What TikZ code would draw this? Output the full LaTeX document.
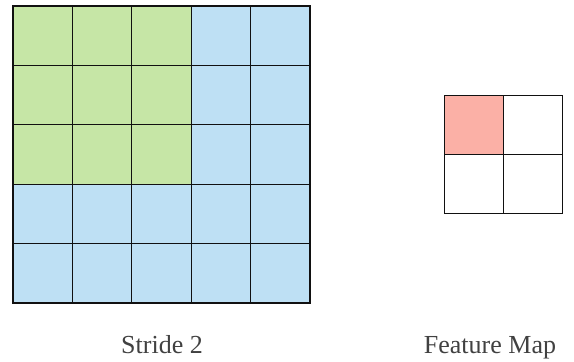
\documentclass[tikz,border=0pt]{standalone}
\usepackage{fontspec}
\setmainfont{Liberation Serif}
\usepackage{tikz}
\usetikzlibrary{positioning}
\definecolor{ink}     {HTML}{111111}
\definecolor{leaf}    {HTML}{C6E6A6}
\definecolor{sky}     {HTML}{BEE0F4}
\definecolor{blush}   {HTML}{FBB0A6}
\tikzset{
  % --- cells
  cell/.style  = {draw=ink, line width=1.1pt, minimum size=59.4pt, inner sep=0pt,
                  outer sep=0pt, anchor=north west},
  incell/.style= {cell, fill=sky},
  wincell/.style={cell, fill=leaf},
  fmcell/.style= {cell, line width=0.9pt, fill=white},
  hitcell/.style={fmcell, fill=blush},
  caption/.style = {font=\fontsize{26}{30}\selectfont, text=ink!80, anchor=base},
}
\begin{document}
\begin{tikzpicture}[x=1pt,y=1pt]
  \useasboundingbox (0,0) rectangle (574,362);
  % input 5x5, first 3x3 window
  \foreach \r in {0,...,4}{
    \foreach \c in {0,...,4}{
      \pgfmathtruncatemacro{\win}{(\r<3)&&(\c<3)}
      \ifnum\win=1
        \node[wincell] (in-\r-\c) at (13+\c*59.4,356-\r*59.4) {};
      \else
        \node[incell] (in-\r-\c) at (13+\c*59.4,356-\r*59.4) {};
      \fi
    }
  }
  % feature map 2x2
  \foreach \r in {0,1}{
    \foreach \c in {0,1}{
      \node[fmcell] (fm-\r-\c) at (444+\c*59.4,267-\r*59.4) {};
    }
  }
  \node[hitcell] (fm-0-0) at (444,267) {};
  % captions
  \node[caption] (stride) at (162,9) {Stride 2};
  \node[caption] (fmap) at (490,9) {Feature Map};
\end{tikzpicture}
\end{document}
